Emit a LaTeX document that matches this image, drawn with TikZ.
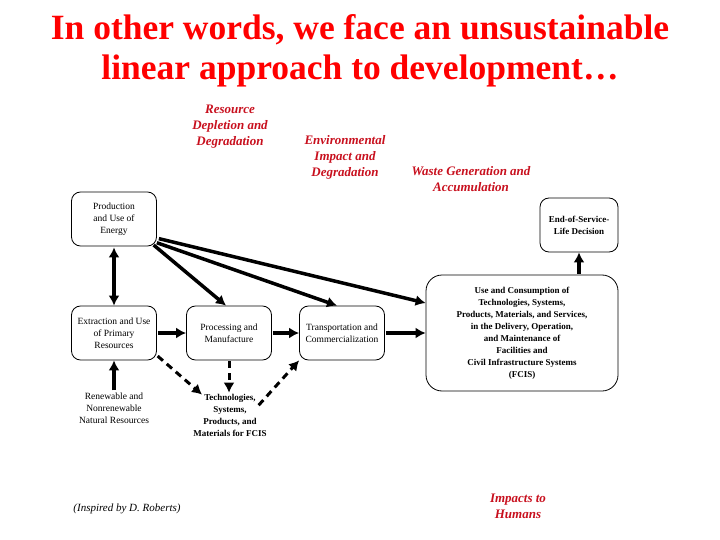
\documentclass[tikz,border=0pt]{standalone}
\usepackage{fontspec}
\setmainfont{Liberation Serif}
\usepackage{xcolor}
\definecolor{titlered}{HTML}{FF0000}
\definecolor{labelred}{HTML}{C8101E}
\usetikzlibrary{arrows.meta,calc}

\begin{document}
\begin{tikzpicture}[x=1pt, y=-1pt,
      box/.style={draw, rounded corners=9pt, line width=0.8pt, align=center, font=\fontsize{9.5}{12}\selectfont, inner sep=2pt},
      boldbox/.style={box, font=\fontsize{9}{12}\selectfont\bfseries},
      txt/.style={align=center, font=\fontsize{9.5}{12}\selectfont, inner sep=1pt},
      redlbl/.style={align=center, text=labelred, font=\fontsize{13}{16}\selectfont\bfseries\itshape},
      arr/.style={-{Latex[length=10pt,width=11pt]}, line width=3.5pt, shorten <=1pt},
      darr/.style={arr, line width=3pt, dash pattern=on 7pt off 5pt}
    ]
    \useasboundingbox (0,0) rectangle (720,540);
    \node[align=center, text=titlered, font=\fontsize{35.5}{40}\selectfont\bfseries] (title) at (360,51) {In other words, we face an unsustainable\\linear approach to development…};
    \node[redlbl] (depl) at (230,127) {Resource\\Depletion and\\Degradation};
    \node[redlbl] (envi) at (345,157) {Environmental\\Impact and\\Degradation};
    \node[redlbl] (waste) at (471,179) {Waste Generation and\\Accumulation};
    \node[redlbl] (human) at (518,506) {Impacts to\\Humans};
    \node[txt, font=\fontsize{11}{13}\selectfont\itshape] (credit) at (127,509) {(Inspired by D. Roberts)};
    \node[box, minimum width=85pt, minimum height=54pt] (prod) at (114,219) {Production\\and Use of\\Energy};
    \node[box, minimum width=85pt, minimum height=54pt] (extr) at (114,333) {Extraction and Use\\of Primary\\Resources};
    \node[box, minimum width=85pt, minimum height=54pt] (proc) at (229,333) {Processing and\\Manufacture};
    \node[box, minimum width=85pt, minimum height=54pt] (trans) at (342,333) {Transportation and\\Commercialization};
    \node[boldbox, minimum width=192pt, minimum height=116pt, rounded corners=16pt] (use) at (522,333) {Use and Consumption of\\Technologies, Systems,\\Products,  Materials, and Services,\\in the Delivery, Operation,\\and Maintenance of\\Facilities and\\Civil Infrastructure Systems\\(FCIS)};
    \node[boldbox, minimum width=78pt, minimum height=54pt] (eos) at (579,225) {End-of-Service-\\Life Decision};
    \node[txt] (natres) at (114,408) {Renewable and\\Nonrenewable\\Natural Resources};
    \node[txt, font=\fontsize{9}{12}\selectfont\bfseries] (tech) at (230,415) {Technologies,\\Systems,\\Products, and\\Materials for FCIS};
    \draw[arr, {Latex[length=10pt,width=11pt]}-{Latex[length=10pt,width=11pt]}] (prod) -- (extr);
    \draw[arr] (natres) -- (extr); \draw[arr] (extr) -- (proc); \draw[arr] (proc) -- (trans); \draw[arr] (trans) -- (use);
    \draw[arr] (use.north -| eos) -- (eos);
    \draw[arr] ([shift={(-4,-2)}]prod.south east) -- ([xshift=-3]proc.north);
    \draw[arr] ([shift={(-1,-4)}]prod.south east) -- ([xshift=-5]trans.north);
    \draw[arr] ([shift={(1,-8)}]prod.south east) -- ([yshift=30]use.west);
    \draw[darr] ([yshift=5]extr.south east) -- ([xshift=10,yshift=-2]tech.north west);
    \draw[darr] (proc.south) -- (proc.south |- tech.north);
    \draw[darr] ([shift={(-10,-9)}]tech.east) -- (trans.south west);
  \end{tikzpicture}
\end{document}
